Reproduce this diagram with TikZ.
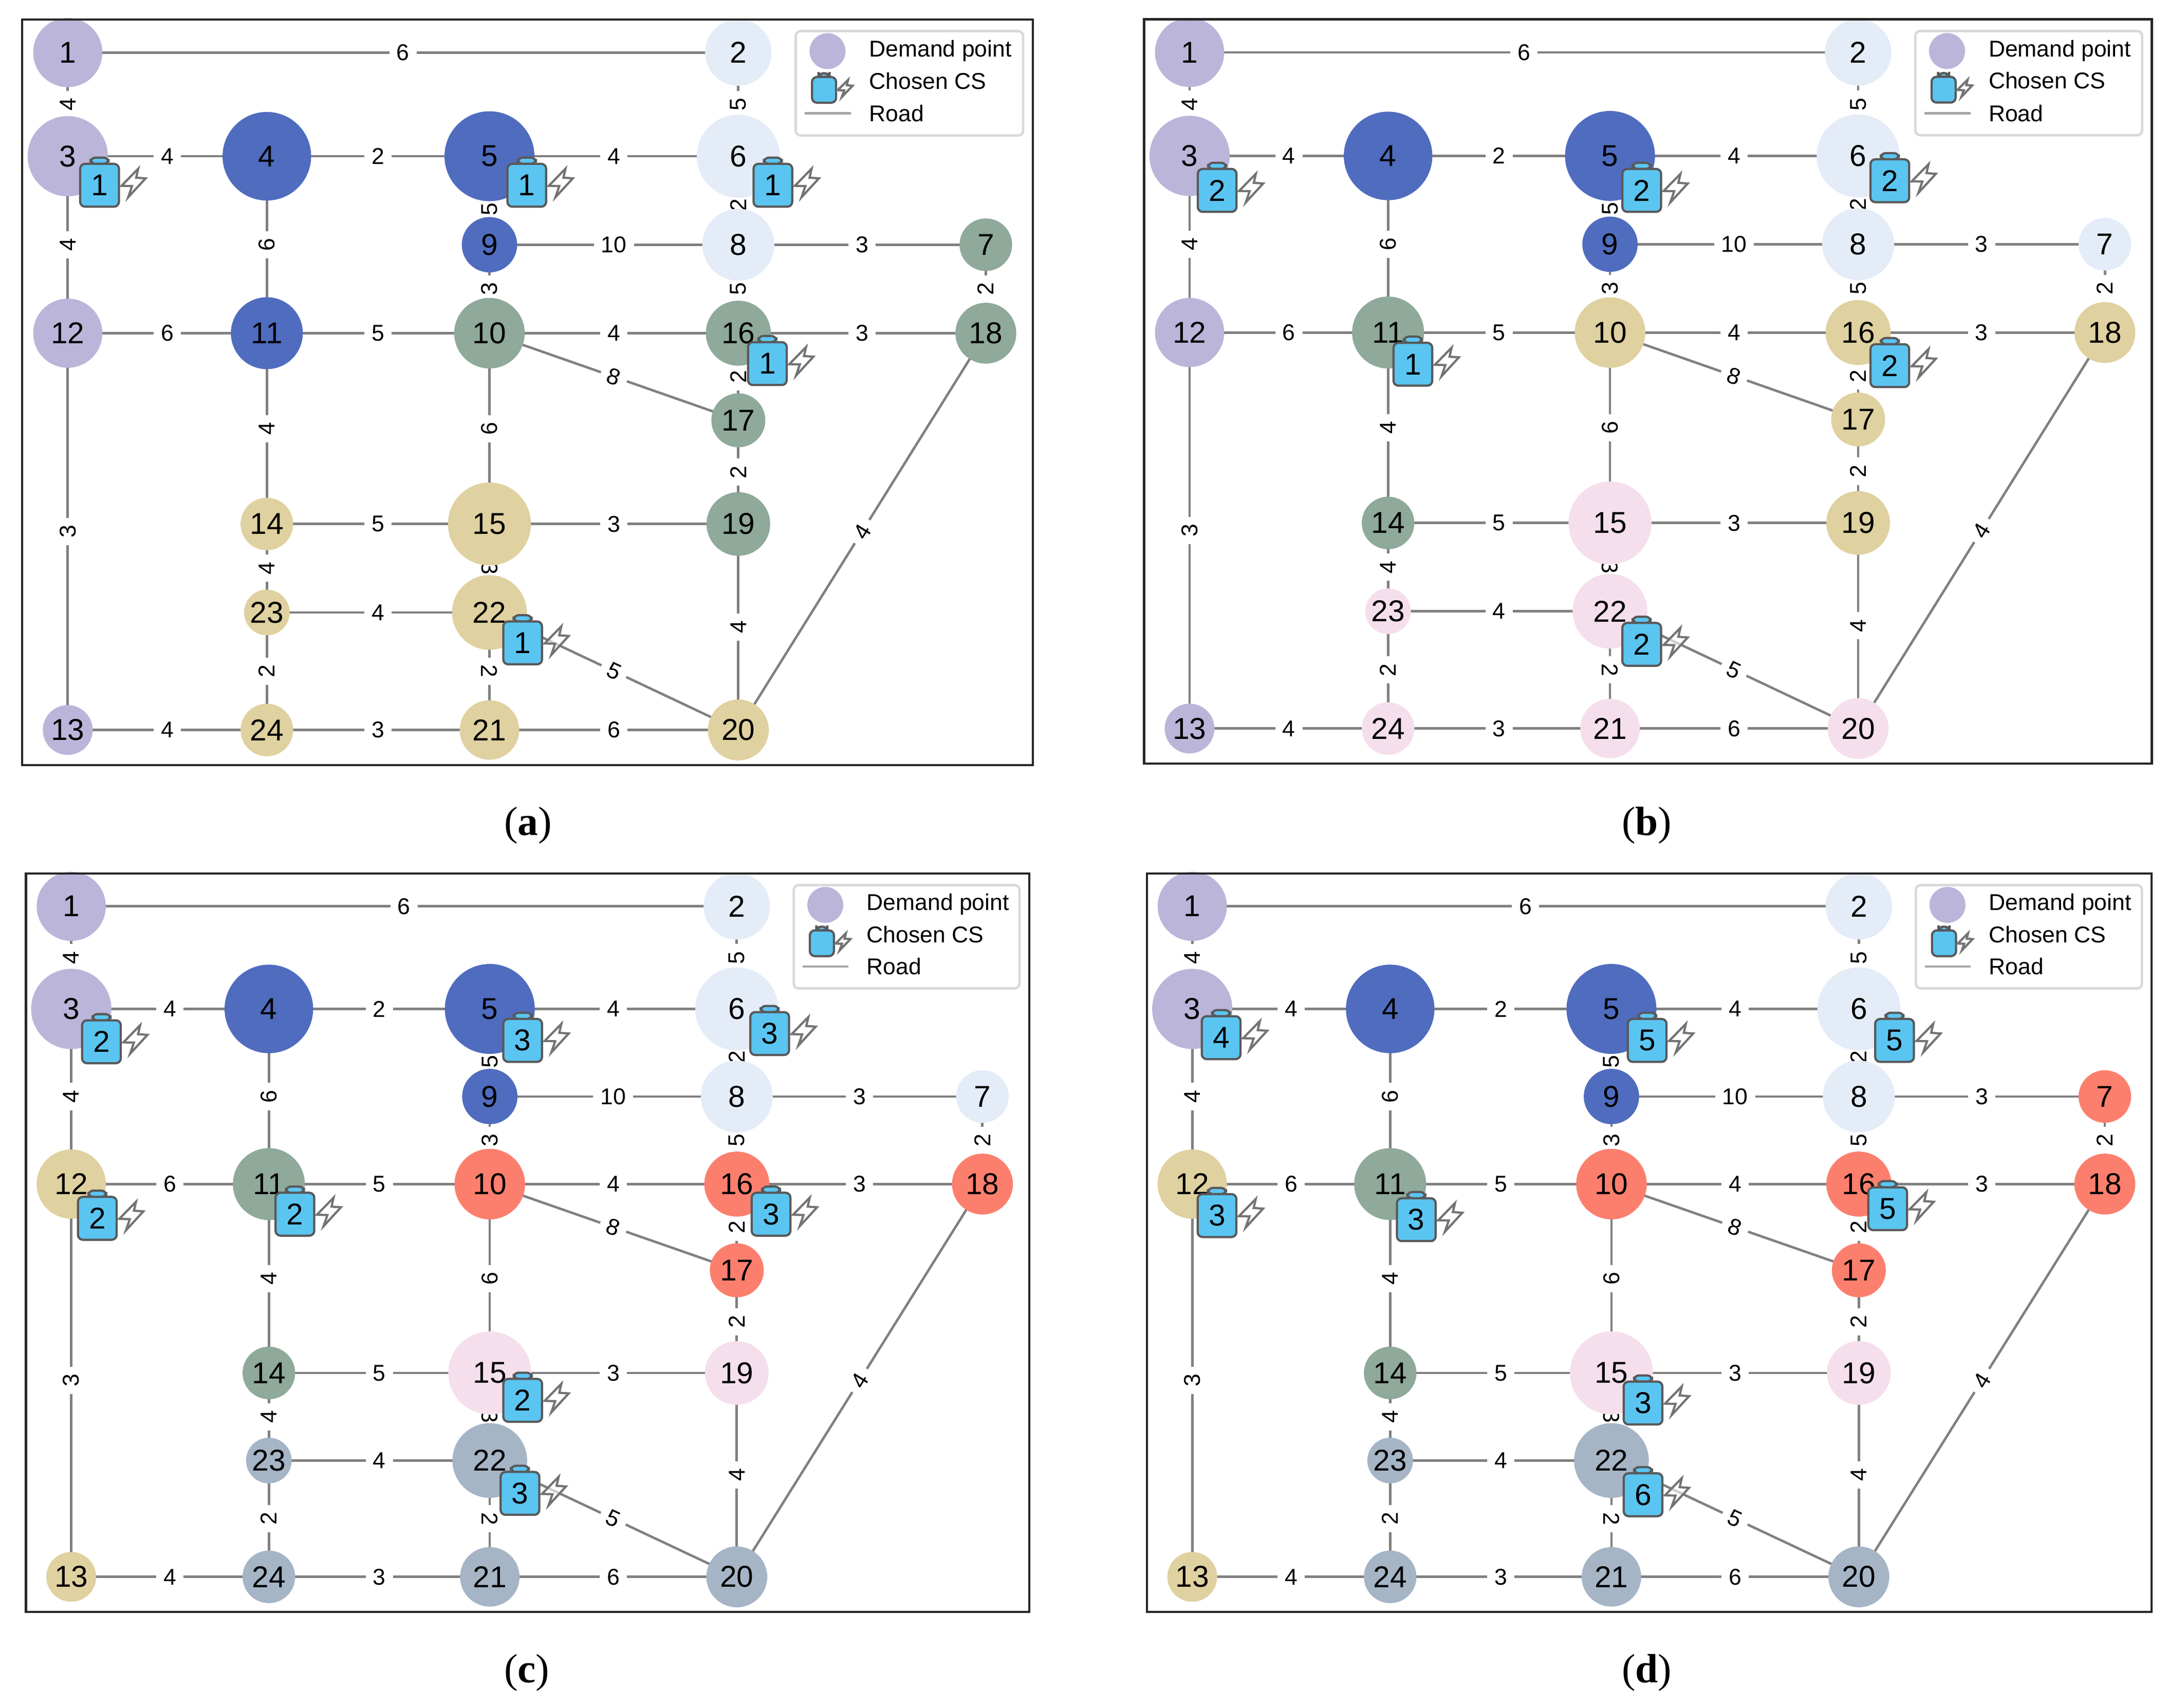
\documentclass[tikz,border=0pt]{standalone}
\usepackage{fontspec}
\setmainfont{Liberation Sans}
\newfontfamily\capfont{Liberation Serif}
\usetikzlibrary{calc}
\definecolor{lav}{HTML}{BBB5DA}
\definecolor{deepblue}{HTML}{506CBF}
\definecolor{ice}{HTML}{E4ECF8}
\definecolor{sage}{HTML}{8FA99B}
\definecolor{sand}{HTML}{DFD1A0}
\definecolor{pink}{HTML}{F5DFEC}
\definecolor{coral}{HTML}{FC7F6E}
\definecolor{slate}{HTML}{A5B5C6}
\definecolor{battblue}{HTML}{5BC5F2}
\pgfdeclarelayer{roads}
\pgfsetlayers{roads,main}
\tikzset{
  citynode/.style={circle, inner sep=0pt, text=black, font=\fontsize{6.2}{7}\selectfont},
  roadline/.style={draw=gray, line width=0.5pt},
  weighttag/.style={fill=white, sloped, allow upside down, inner xsep=1.5pt, inner ysep=0.8pt, text=black, font=\fontsize{4.7}{5}\selectfont},
  legendtext/.style={anchor=base west, inner sep=0pt, font=\fontsize{4.7}{5.5}\selectfont},
  captiontag/.style={font=\capfont\fontsize{8.4}{9}\selectfont},
  pics/csicon/.style={code={
    \draw[fill=battblue, draw=black!65, line width=0.45pt, rounded corners=1pt] (-6.5,-15.5) -- (-6.5,-20) -- (6.5,-20) -- (6.5,-15.5) -- cycle;
    \draw[fill=battblue, draw=black!65, line width=0.45pt, rounded corners=1pt] (-14,-15.5) rectangle (14,15.5);
    \draw[fill=white, fill opacity=0.6, draw=black!55, line width=0.45pt, line join=miter]
      (28,-12) -- (15.9,0.4) -- (23.5,0.6) -- (20.7,8.7) -- (33.3,-5) -- (26.5,-5.5) -- cycle;
    \node[citynode] (num) at (0,0) {#1};
  }}
}
% node/x/y/radius
\newcommand{\citylist}{1/49/38/25, 2/534/38/24, 3/49/113/29, 4/193/113/32, 5/354/113/32.5, 6/534/113/30,
  7/713/177/19, 8/534/177/26, 9/354/177/20, 10/354/241/25.5, 11/193/241/26, 12/49/241/25,
  13/49/528/18, 14/193/379/19, 15/354/379/30, 16/534/241/23.5, 17/534/304/19.5, 18/713/241/22,
  19/534/379/23, 20/534/528/22, 21/354/528/21.5, 22/354/443/27, 23/193/443/16.5, 24/193/528/19}
% from/to/weight/pos
\newcommand{\roadlist}{1/2/6/.5, 3/1/4/.5, 6/2/5/.5, 3/4/4/.5, 12/3/4/.5, 4/5/2/.5, 11/4/6/.5, 5/6/4/.5,
  9/5/5/.4, 8/6/2/.45, 9/8/10/.5, 8/7/3/.5, 10/9/3/.5, 16/8/5/.5, 18/7/2/.5, 11/10/5/.5, 12/11/6/.5,
  10/16/4/.5, 10/17/8/.5, 16/18/3/.5, 17/16/2/.5, 14/11/4/.5, 15/10/6/.5, 13/12/3/.5, 14/15/5/.5,
  15/19/3/.5, 19/17/2/.5, 23/14/4/.5, 15/22/3/.5, 23/22/4/.5, 20/19/4/.5, 20/18/4/.5, 22/20/5/.5,
  24/23/2/.5, 22/21/2/.5, 13/24/4/.5, 24/21/3/.5, 21/20/6/.5}
% prefix, shift x, shift y, xscale, yscale, colours of the cities, batteries
\newcommand{\roadpanel}[7]{
  \begin{scope}[shift={(#2,#3)}, xscale=#4, yscale=#5, name prefix=#1-]
    \foreach \cn/\px/\py/\rad in \citylist {
      \pgfmathparse{{#6}[\cn-1]}\edef\citycol{\pgfmathresult}
      \node[citynode, fill=\citycol, minimum size=\rad*0.2mm] (\cn) at (\px,\py) {\cn};
    }
    \begin{pgfonlayer}{roads}
      \foreach \ca/\cb/\wt/\ps in \roadlist
        \draw[roadline] (\ca.center) -- node[pos=\ps, weighttag] (w\ca-\cb) {\wt} (\cb.center);
    \end{pgfonlayer}
    \foreach \cn/\ox/\oy/\k in {#7}
      \pic (bat\cn) at ([shift={(\ox,\oy)}]\cn) {csicon=\k};
    % legend
    \draw[draw=black!15, line width=0.5pt, fill=white, rounded corners=1pt] (575.5,22.5) rectangle (740,98);
    \node[circle, fill=lav, inner sep=0pt, minimum size=26*0.1mm] (legcity) at (598.5,37) {};
    \pic[xscale=.62, yscale=.6] (legbat) at (596,65) {csicon={}};
    \coordinate (legroadl) at (582,82);
    \coordinate (legroadr) at (615.5,82);
    \draw[draw=gray!70, line width=0.5pt] (legroadl) -- (legroadr);
    \node[legendtext] (legdem) at (628,41) {Demand point};
    \node[legendtext] (legcs) at (628,64.4) {Chosen CS};
    \node[legendtext] (legroad) at (628,88) {Road};
    \draw[draw=black!85, line width=0.45pt] (16,14) rectangle (747,553.5);
  \end{scope}
}
\begin{document}
\begin{tikzpicture}[x=0.01cm, y=-0.01cm]
  \useasboundingbox (0,0) rectangle (1568,1235.3);
  \roadpanel{a}{0}{0}{1}{1}
    {"lav","ice","lav","deepblue","deepblue","ice","sage","ice","deepblue","sage","deepblue","lav","lav","sand","sand","sage","sage","sage","sage","sand","sand","sand","sand","sand"}
    {3/23/21/1, 5/27/21/1, 6/25/21/1, 16/21/22/1, 22/24/22/1}
  \roadpanel{b}{811.5}{0}{.997}{.998}
    {"lav","ice","lav","deepblue","deepblue","ice","ice","ice","deepblue","sand","sage","lav","lav","sage","pink","sand","sand","sand","sand","pink","pink","pink","pink","pink"}
    {3/20/25/2, 5/23/25/2, 6/23/18/2, 11/18/23/1, 16/23/24/2, 22/23/24/2}
  \roadpanel{c}{2.9}{617.9}{.9925}{.9898}
    {"lav","ice","lav","deepblue","deepblue","ice","ice","ice","deepblue","coral","sage","sand","sand","sage","pink","coral","coral","coral","pink","slate","slate","slate","slate","slate"}
    {3/22/24/2, 5/24/23/3, 6/24/18/3, 11/19/22/2, 12/19/25/2, 15/24/20/2, 16/25/22/3, 22/22/24/3}
  \roadpanel{d}{813.6}{617.9}{.994}{.9898}
    {"lav","ice","lav","deepblue","deepblue","ice","coral","ice","deepblue","coral","sage","sand","sand","sage","pink","coral","coral","coral","pink","slate","slate","slate","slate","slate"}
    {3/21/21/4, 5/26/23/5, 6/26/23/5, 11/19/26/3, 12/18/23/3, 15/23/22/3, 16/21/18/5, 22/23/25/6}
  \node[captiontag] (capa) at (382,597) {(\textbf{a})};
  \node[captiontag] (capb) at (1191,597) {(\textbf{b})};
  \node[captiontag] (capc) at (381,1210) {(\textbf{c})};
  \node[captiontag] (capd) at (1191,1210) {(\textbf{d})};
\end{tikzpicture}
\end{document}
